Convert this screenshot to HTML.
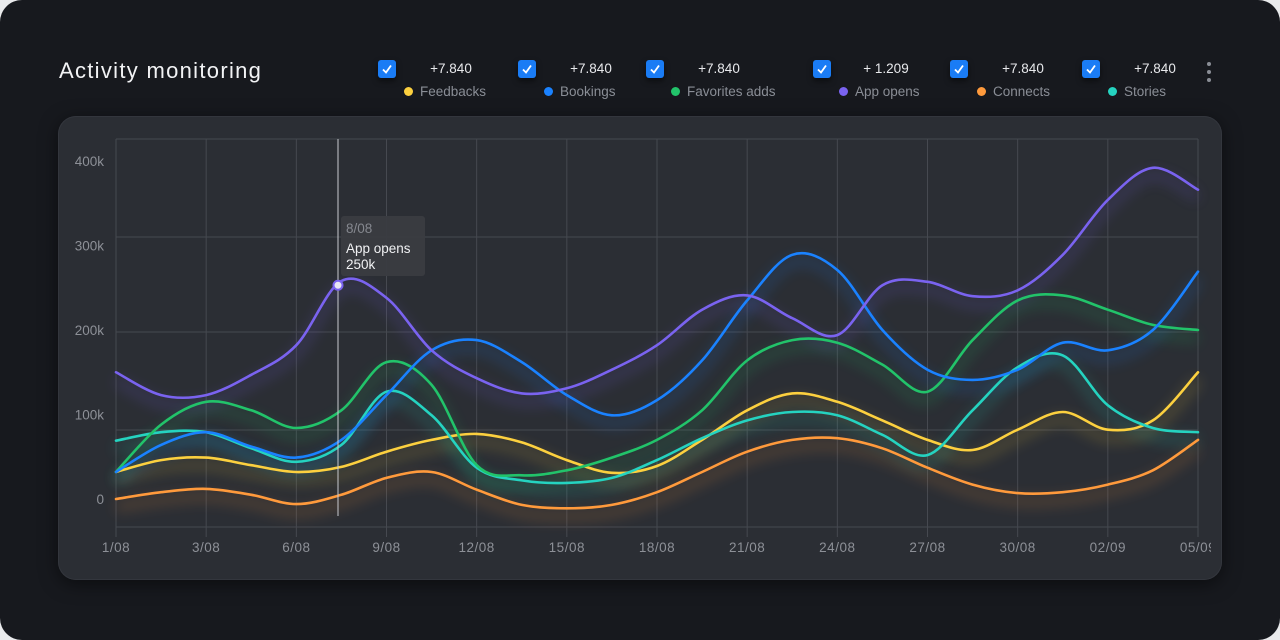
<!DOCTYPE html>
<html><head><meta charset="utf-8">
<style>
html,body{margin:0;padding:0;width:1280px;height:640px;overflow:hidden;background:#e9eaec;font-family:"Liberation Sans",sans-serif}
#frame{position:absolute;left:0;top:0;width:1280px;height:640px;background:#17191e;border-radius:22px;overflow:hidden}
#title{position:absolute;left:59px;top:58px;color:#f2f3f5;font-size:22px;letter-spacing:1.3px}
.cb{position:absolute;top:60px;width:18px;height:18px;border-radius:3px;background:#1a7cf5;box-shadow:0 3px 6px rgba(0,0,0,.5)}
.cb svg{position:absolute;left:3px;top:3px}
.val{position:absolute;top:61px;color:#e8e9ec;font-size:13.5px;width:80px;text-align:center}
.lab{position:absolute;top:84px;color:#8a8e96;font-size:13.5px;white-space:nowrap}
.lab i{display:inline-block;width:9px;height:9px;border-radius:50%;margin-right:7px;vertical-align:0}
#more{position:absolute;left:1207px;top:62px}
#more b{display:block;width:4px;height:4px;border-radius:50%;background:#8a8e96;margin-bottom:4px}
#card{position:absolute;left:58px;top:116px;width:1164px;height:464px;border-radius:18px;background:#2b2e34;box-shadow:0 4px 18px rgba(0,0,0,.5),inset 0 0 0 1px #33363d;overflow:hidden}
svg#chart{position:absolute;left:0;top:0}
</style></head><body>
<div id="frame">
<div id="title">Activity monitoring</div>
<div id="legend"></div>
<div id="more"><b></b><b></b><b></b></div>
<div id="card"></div>
<svg id="chart" width="1280" height="640"></svg>
</div>
<script>
const categories=["1/08","3/08","6/08","9/08","12/08","15/08","18/08","21/08","24/08","27/08","30/08","02/09","05/09"];
const yTicks=[0,100,200,300,400];
const legendNames=["Feedbacks","Bookings","Favorites adds","App opens","Connects","Stories"];
const legendValues=["+7.840","+7.840","+7.840","+ 1.209","+7.840","+7.840"];
const colors=["#fcd03f","#1a82ff","#22c36a","#7a63f0","#ff9a3c","#25d3c0"];
// values in k, sampled at half-category steps (25 points)
const feedbacks=[32,46,49,40,32,38,56,70,77,67,46,31,39,70,105,125,115,93,70,58,82,103,82,93,150];
const bookings=[32,64,79,62,49,70,123,176,188,162,123,99,117,164,235,289,271,200,153,141,153,185,176,200,269];
const favorites=[32,88,115,105,84,105,162,135,40,28,34,49,70,105,164,188,185,159,127,188,235,241,224,206,200];
const appOpens=[150,123,123,147,182,258,238,176,143,125,131,153,182,224,241,214,194,253,257,240,247,289,354,392,366];
const connects=[0,8,12,5,-6,5,25,32,11,-7,-11,-7,8,32,56,70,72,60,37,17,7,8,17,34,70];
const stories=[69,79,79,60,44,64,127,99,37,22,19,25,46,72,93,103,99,76,52,105,156,170,111,84,79];
const seriesData=[feedbacks,bookings,favorites,appOpens,connects,stories];
const drawOrder=[4,0,5,2,1,3];
const X0=116,X1=1198;
const xScale=i=>X0+(X1-X0)*i/(categories.length-1);
const yScale=v=>499-v*0.845;
const NS="http://www.w3.org/2000/svg";
const svg=document.getElementById('chart');
function el(t,a){const e=document.createElementNS(NS,t);for(const k in a)e.setAttribute(k,a[k]);return e;}
const cbX=[378,518,646,813,950,1082],labX=[404,544,671,839,977,1108];
const lg=document.getElementById('legend');
legendNames.forEach((n,i)=>{
 const c=document.createElement('div');c.className='cb';c.style.left=cbX[i]+'px';
 c.innerHTML='<svg width="12" height="12"><path d="M2 6.5 L5 9.5 L10 2.5" stroke="#fff" stroke-width="1.8" fill="none"/></svg>';
 
 
 lg.appendChild(c);
 const v=document.createElement('div');v.className='val';v.style.left=(cbX[i]+33)+'px';v.textContent=legendValues[i];
 
 
 lg.appendChild(v);
 const l=document.createElement('div');l.className='lab';l.style.left=labX[i]+'px';
 l.innerHTML='<i style="background:'+colors[i]+'"></i>'+n;
 
 
 lg.appendChild(l);
});
const defs=el('defs',{});
const clip=el('clipPath',{id:'cardclip'});clip.appendChild(el('rect',{x:58,y:116,width:1164,height:464,rx:18}));defs.appendChild(clip);
const clip2=el('clipPath',{id:'labclip'});clip2.appendChild(el('rect',{x:58,y:116,width:1153,height:464}));defs.appendChild(clip2);
const f=el('filter',{id:'glow',x:'-10%',y:'-50%',width:'120%',height:'200%'});
f.appendChild(el('feGaussianBlur',{stdDeviation:7}));defs.appendChild(f);
svg.appendChild(defs);
const g=el('g',{'clip-path':'url(#cardclip)'});svg.appendChild(g);
const gl2=el('g',{'clip-path':'url(#labclip)'});svg.appendChild(gl2);
[139,237,332,430,527].forEach(y=>{const l=el('line',{x1:X0,x2:X1,y1:y,y2:y,stroke:'#464950','stroke-width':1});


g.appendChild(l);});
categories.forEach((c,i)=>{const x=xScale(i);
 const l=el('line',{x1:x,x2:x,y1:139,y2:537,stroke:'#464950','stroke-width':1});
 
 
 g.appendChild(l);
 const t=el('text',{x:x,y:552,fill:'#8d9097','font-size':13.5,'text-anchor':'middle','font-family':'Liberation Sans, sans-serif','letter-spacing':'0.5'});t.textContent=c;
 
 
 gl2.appendChild(t);});
yTicks.forEach(v=>{const t=el('text',{x:104,y:yScale(v)+5,fill:'#8d9097','font-size':13.5,'text-anchor':'end','font-family':'Liberation Sans, sans-serif'});
 t.textContent=v===0?'0':v+'k';
 
 
 g.appendChild(t);});
function pathFor(d){const n=d.length-1;const pts=d.map((v,i)=>[X0+(X1-X0)*i/n,yScale(v)]);
 let s='M'+pts[0][0]+' '+pts[0][1];
 for(let i=0;i<pts.length-1;i++){const p0=pts[Math.max(0,i-1)],p1=pts[i],p2=pts[i+1],p3=pts[Math.min(pts.length-1,i+2)];
  const c1=[p1[0]+(p2[0]-p0[0])/6,p1[1]+(p2[1]-p0[1])/6],c2=[p2[0]-(p3[0]-p1[0])/6,p2[1]-(p3[1]-p1[1])/6];
  s+=' C'+c1[0].toFixed(1)+' '+c1[1].toFixed(1)+' '+c2[0].toFixed(1)+' '+c2[1].toFixed(1)+' '+p2[0].toFixed(1)+' '+p2[1].toFixed(1);}
 return s;}
drawOrder.forEach(i=>{const d=pathFor(seriesData[i]);
 const gl=el('path',{d:d,stroke:colors[i],'stroke-width':8,fill:'none',opacity:0.22,filter:'url(#glow)',transform:'translate(0,8)'});
 
 
 g.appendChild(gl);});
drawOrder.forEach(i=>{const p=el('path',{d:pathFor(seriesData[i]),stroke:colors[i],'stroke-width':2.6,fill:'none','stroke-linecap':'round'});
 
 
 g.appendChild(p);});
const tipX=338,tipV=253;
const vl=el('line',{x1:tipX,x2:tipX,y1:139,y2:516,stroke:'#c8cacf','stroke-width':1});


g.appendChild(vl);
const dot=el('circle',{cx:tipX,cy:yScale(tipV),r:4.5,fill:'#e8e6f5',stroke:'#7a63f0','stroke-width':2});


g.appendChild(dot);
const tg=el('g',{});


tg.appendChild(el('rect',{x:341,y:216,width:84,height:60,rx:3,fill:'#3a3c41',opacity:0.95}));
[['8/08','#85888f',233],['App opens','#f0f1f3',253],['250k','#f0f1f3',269]].forEach(a=>{const t=el('text',{x:346,y:a[2],fill:a[1],'font-size':13.5,'font-family':'Liberation Sans, sans-serif'});t.textContent=a[0];tg.appendChild(t);});
g.appendChild(tg);
</script>
</body></html>
